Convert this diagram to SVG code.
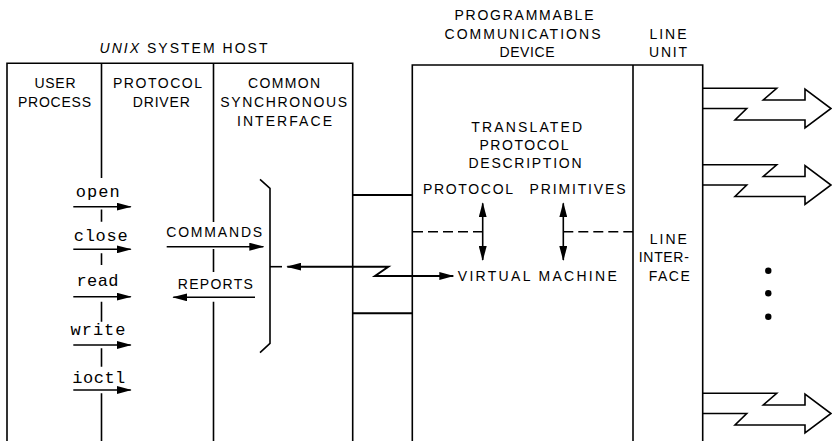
<svg xmlns="http://www.w3.org/2000/svg" width="832" height="441" viewBox="0 0 832 441">
<style>
.t{font-family:"Liberation Sans",Arial,Helvetica,sans-serif;font-size:14px;text-anchor:middle;fill:#000}
.m{font-family:"Liberation Mono","Courier New",monospace;font-size:17px;text-anchor:middle;fill:#000}
.ln{stroke:#000;stroke-width:1.6;fill:none}
.th{stroke:#000;stroke-width:2;fill:none}
.da{stroke:#000;stroke-width:1.6;fill:none;stroke-dasharray:10 5}
.ar{stroke:#000;stroke-width:1.6;fill:none;stroke-linejoin:miter}
</style>
<defs>
<marker id="ah" markerUnits="userSpaceOnUse" markerWidth="15" markerHeight="8" viewBox="0 0 15 8" refX="14" refY="4" orient="auto-start-reverse">
<path d="M0,0 L15,4 L0,8 z" fill="#000"/>
</marker>
<path id="bigarrow" class="ar" d="M702.7 88.3 H776.7 L763.3 100 H805 V89 L831 108.5 L805 128 V120 H735 L746.7 108.5 H702.7"/>
</defs>

<g id="host">
<text class="t" x="183.5" y="52.7" textLength="168" lengthAdjust="spacing"><tspan font-style="italic">UNIX</tspan> SYSTEM HOST</text>
<path class="ln" d="M7 441 V63.3 H352.7 V441"/>
</g>

<g id="user-process">
<text class="t" x="55" y="88" textLength="41" lengthAdjust="spacing">USER</text>
<text class="t" x="54.5" y="107" textLength="73" lengthAdjust="spacing">PROCESS</text>
<text class="m" x="97.7" y="197.3" textLength="44" lengthAdjust="spacing">open</text>
<text class="m" x="100.7" y="241" textLength="54" lengthAdjust="spacing">close</text>
<text class="m" x="97.5" y="285.7" textLength="42" lengthAdjust="spacing">read</text>
<text class="m" x="98" y="335" textLength="55" lengthAdjust="spacing">write</text>
<text class="m" x="98.8" y="382.7" textLength="53" lengthAdjust="spacing">ioctl</text>
</g>

<g id="protocol-driver">
<text class="t" x="157.5" y="88" textLength="89" lengthAdjust="spacing">PROTOCOL</text>
<text class="t" x="161.3" y="107" textLength="57" lengthAdjust="spacing">DRIVER</text>
<path class="ln" d="M101.5 63.3 V178 M101.5 209.5 V221.7 M101.5 253.3 V265 M101.5 301.7 V321.7 M101.5 348.3 V366.7 M101.5 393.3 V441"/>
<text class="t" x="214.2" y="237.3" textLength="96" lengthAdjust="spacing">COMMANDS</text>
<text class="t" x="215.3" y="289.3" textLength="75" lengthAdjust="spacing">REPORTS</text>
</g>

<g id="common-synchronous-interface">
<text class="t" x="284" y="88" textLength="72" lengthAdjust="spacing">COMMON</text>
<text class="t" x="283.7" y="107" textLength="127" lengthAdjust="spacing">SYNCHRONOUS</text>
<text class="t" x="284.5" y="126" textLength="95" lengthAdjust="spacing">INTERFACE</text>
<path class="ln" d="M213.5 63.3 V222 M213.5 249 V272 M213.5 301.7 V441"/>
<path class="ln" d="M260 179.3 L270 188.3 V343.3 L260 352.7"/>
</g>

<g id="pcd">
<text class="t" x="524" y="20" textLength="139" lengthAdjust="spacing">PROGRAMMABLE</text>
<text class="t" x="522.5" y="38.5" textLength="156" lengthAdjust="spacing">COMMUNICATIONS</text>
<text class="t" x="527" y="57" textLength="55" lengthAdjust="spacing">DEVICE</text>
<path class="ln" d="M412.3 441 V65 H702.7 V441"/>
<text class="t" x="526.7" y="131.7" textLength="111" lengthAdjust="spacing">TRANSLATED</text>
<text class="t" x="524" y="150" textLength="89" lengthAdjust="spacing">PROTOCOL</text>
<text class="t" x="525" y="168.3" textLength="113" lengthAdjust="spacing">DESCRIPTION</text>
<text class="t" x="468" y="194.3" textLength="90" lengthAdjust="spacing">PROTOCOL</text>
<text class="t" x="577.5" y="194.3" textLength="96" lengthAdjust="spacing">PRIMITIVES</text>
<text class="t" x="537.3" y="281" textLength="159" lengthAdjust="spacing">VIRTUAL MACHINE</text>
</g>

<g id="line-unit">
<text class="t" x="668" y="39" textLength="37" lengthAdjust="spacing">LINE</text>
<text class="t" x="668" y="57" textLength="38" lengthAdjust="spacing">UNIT</text>
<path class="ln" d="M633 65 V441"/>
<text class="t" x="668.3" y="244" textLength="37" lengthAdjust="spacing">LINE</text>
<text class="t" x="663.8" y="262.3" textLength="50" lengthAdjust="spacing">INTER-</text>
<text class="t" x="669.3" y="280.7" textLength="41" lengthAdjust="spacing">FACE</text>
<circle cx="768.3" cy="270.7" r="3.2" fill="#000"/>
<circle cx="768.3" cy="293.3" r="3.2" fill="#000"/>
<circle cx="768.3" cy="316.7" r="3.2" fill="#000"/>
</g>

<g id="connectors">
<line class="ln" x1="73.3" y1="206.7" x2="130.7" y2="206.7" marker-end="url(#ah)"/>
<line class="ln" x1="73.3" y1="249.3" x2="130.7" y2="249.3" marker-end="url(#ah)"/>
<line class="ln" x1="73.3" y1="296.7" x2="130.7" y2="296.7" marker-end="url(#ah)"/>
<line class="ln" x1="73.3" y1="345" x2="130.7" y2="345" marker-end="url(#ah)"/>
<line class="ln" x1="73.3" y1="390" x2="130.7" y2="390" marker-end="url(#ah)"/>
<line class="ln" x1="166.7" y1="246.7" x2="263.3" y2="246.7" marker-end="url(#ah)"/>
<line class="ln" x1="255" y1="297.3" x2="173.3" y2="297.3" marker-end="url(#ah)"/>
<line class="ln" x1="270" y1="266.7" x2="282" y2="266.7"/>
<path class="th" d="M287.3 266.7 H388.3 L375 276 H453.3" marker-start="url(#ah)" marker-end="url(#ah)"/>
<line class="th" x1="352.7" y1="195" x2="412.3" y2="195"/>
<line class="th" x1="352.7" y1="313.3" x2="412.3" y2="313.3"/>
<line class="da" x1="413" y1="231.7" x2="482.7" y2="231.7"/>
<line class="da" x1="563.3" y1="231.7" x2="633" y2="231.7"/>
<line class="ln" x1="482.7" y1="203.3" x2="482.7" y2="260" marker-start="url(#ah)" marker-end="url(#ah)"/>
<line class="ln" x1="563.3" y1="203.3" x2="563.3" y2="260" marker-start="url(#ah)" marker-end="url(#ah)"/>
<use href="#bigarrow"/>
<use href="#bigarrow" transform="translate(0,76.5)"/>
<use href="#bigarrow" transform="translate(0,305)"/>
</g>
</svg>
